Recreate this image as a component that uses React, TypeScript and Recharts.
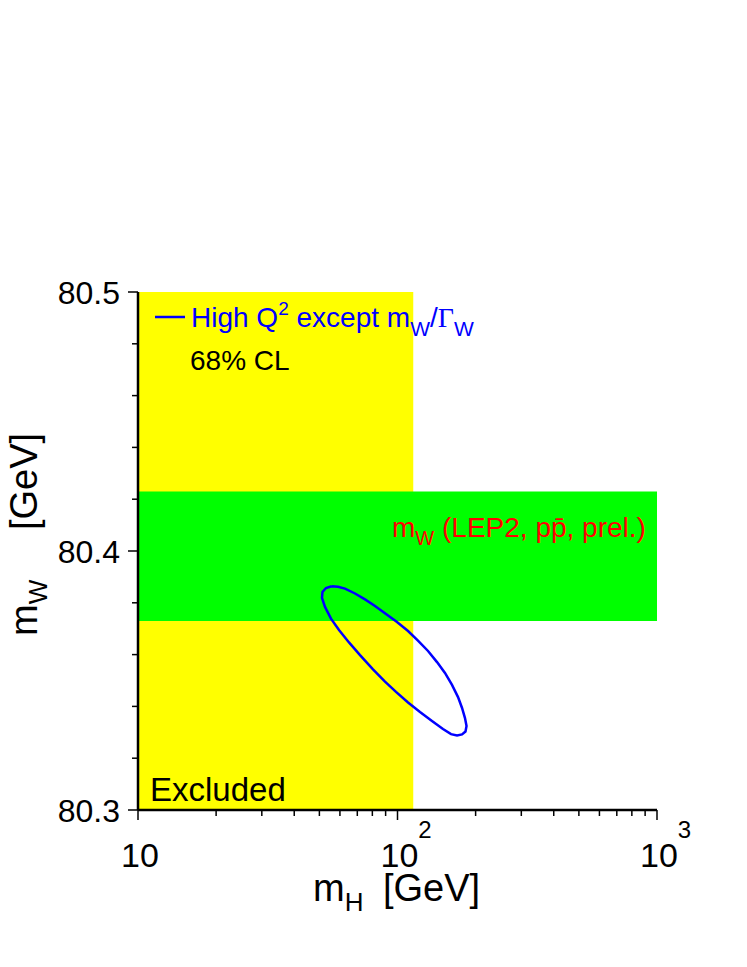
import React from "react";
import { ComposedChart, XAxis, YAxis, Scatter, ReferenceArea } from "recharts";

const xTicks = [10, 20, 30, 40, 50, 60, 70, 80, 90, 100, 200, 300, 400, 500, 600, 700, 800, 900, 1000];
const xMajor = [10, 100, 1000];
const xLabels: Record<number, string[]> = { 10: ["10", ""], 100: ["10", "2"], 1000: ["10", "3"] };
const yTicks = [80.3, 80.32, 80.34, 80.36, 80.38, 80.4, 80.42, 80.44, 80.46, 80.48, 80.5];
const yLabels: Record<number, string> = { 80.3: "80.3", 80.4: "80.4", 80.5: "80.5" };

// LEP direct search limit on m_H (yellow) and the direct m_W band (green)
const excludedMH = [10, 115];
const mwBand = [80.373, 80.423];

// 68% CL contour
const ellipseMH = [
  55.77, 58.98, 62.77, 68.6, 74.96, 81.9, 90.3, 99.56, 109.8, 119.9, 131.1, 142.0, 152.4, 162.2, 171.1,
  177.3, 182.0, 184.5, 182.8, 177.3, 169.6, 160.8, 149.7, 135.8, 122.1, 109.8, 98.68, 89.5, 80.46, 71.71,
  65.03, 59.51, 55.42, 52.55, 51.17, 51.4, 53.02, 55.77,
];
const ellipseMW = [
  80.3864, 80.3862, 80.3855, 80.3836, 80.3813, 80.3788, 80.3757, 80.3726, 80.3691, 80.3654, 80.3614,
  80.3571, 80.3529, 80.3483, 80.3436, 80.3394, 80.3355, 80.3324, 80.3303, 80.3292, 80.3288, 80.3293,
  80.3313, 80.3344, 80.3378, 80.3415, 80.3456, 80.3496, 80.3543, 80.3598, 80.3647, 80.3695, 80.3739,
  80.3784, 80.3819, 80.3842, 80.3857, 80.3864,
];
const contour = ellipseMH.map((mh, i) => ({ mh, mw: ellipseMW[i] }));

const FONT = "'Liberation Sans', Arial, Helvetica, sans-serif";

function BottomTick({ x, y, payload }: any) {
  const v = payload.value;
  const major = xMajor.includes(v);
  const lab = xLabels[v];
  return (
    <g>
      <line x1={x} x2={x} y1={y} y2={y + (major ? 10 : 6)} stroke="#000" strokeWidth={1.5} />
      {lab && (
        <text x={x + 2 - (lab[1] ? 19 : 0)} y={y + 57} textAnchor={lab[1] ? "start" : "middle"} fontSize={34} fontFamily={FONT} fill="#000">
          {lab[0]}
          {lab[1] && (
            <tspan dy={-29} fontSize={24}>
              {lab[1]}
            </tspan>
          )}
        </text>
      )}
    </g>
  );
}

function TopTick({ x, y, payload }: any) {
  const major = xMajor.includes(payload.value);
  return <line x1={x} x2={x} y1={y} y2={y + (major ? 10 : 6)} stroke="#000" strokeWidth={1.5} />;
}

function LeftTick({ x, y, payload }: any) {
  const lab = yLabels[payload.value];
  return (
    <g>
      <line x1={x - (lab ? 10 : 6)} x2={x} y1={y} y2={y} stroke="#000" strokeWidth={1.5} />
      {lab && (
        <text x={x - 18} y={y + 11.5} textAnchor="end" fontSize={32} fontFamily={FONT} fill="#000">
          {lab}
        </text>
      )}
    </g>
  );
}

function RightTick({ x, y, payload }: any) {
  const major = yLabels[payload.value];
  return <line x1={x - (major ? 10 : 7)} x2={x} y1={y} y2={y} stroke="#000" strokeWidth={1.5} />;
}

export default function App() {
  return (
    <div style={{ position: "absolute", left: 0, top: 0, width: 747, height: 967, background: "#fff" }}>
      <ComposedChart width={747} height={967} margin={{ top: 292, right: 90, bottom: 97, left: 0 }}>
        <XAxis
          xAxisId={0}
          dataKey="mh"
          type="number"
          scale="log"
          domain={[10, 1000]}
          ticks={xTicks}
          interval={0}
          height={60}
          tickSize={0}
          tickMargin={0}
          tickLine={false}
          tick={<BottomTick />}
          axisLine={{ stroke: "#000", strokeWidth: 2.5 }}
        />
        <XAxis
          xAxisId="top"
          orientation="top"
          type="number"
          scale="log"
          domain={[10, 1000]}
          ticks={xTicks}
          interval={0}
          height={0}
          tickSize={0}
          tickMargin={0}
          tickLine={false}
          tick={<TopTick />}
          axisLine={{ stroke: "#000", strokeWidth: 2.5 }}
        />
        <YAxis
          yAxisId={0}
          dataKey="mw"
          type="number"
          domain={[80.3, 80.5]}
          ticks={yTicks}
          interval={0}
          width={138}
          tickSize={0}
          tickMargin={0}
          tickLine={false}
          tick={<LeftTick />}
          axisLine={{ stroke: "#000", strokeWidth: 2.5 }}
        />
        <YAxis
          yAxisId="right"
          orientation="right"
          type="number"
          domain={[80.3, 80.5]}
          ticks={yTicks}
          interval={0}
          width={0}
          tickSize={0}
          tickMargin={0}
          tickLine={false}
          tick={<RightTick />}
          axisLine={{ stroke: "#000", strokeWidth: 2.5 }}
        />
        <ReferenceArea x1={excludedMH[0]} x2={excludedMH[1]} y1={80.3} y2={80.5} fill="#ffff00" fillOpacity={1} stroke="none" />
        <ReferenceArea x1={10} x2={1000} y1={mwBand[0]} y2={mwBand[1]} fill="#00ff00" fillOpacity={1} stroke="none" />
        <Scatter
          data={contour}
          line={{ stroke: "#0000ff", strokeWidth: 2.5 }}
          lineType="joint"
          shape={() => <g />}
          isAnimationActive={false}
        />
      </ComposedChart>
      <svg width={747} height={967} style={{ position: "absolute", left: 0, top: 0, pointerEvents: "none" }} fontFamily={FONT}>
        <line x1={155} x2={185} y1={317} y2={317} stroke="#0000ff" strokeWidth={2.5} />
        <text x={191} y={327} fontSize={28} fill="#0000ff">
          High Q<tspan dy={-12} fontSize={19}>2</tspan>
          <tspan dy={12}> except m</tspan>
          <tspan dy={9} fontSize={21}>W</tspan>
          <tspan dy={-9}>/</tspan>
          <tspan fontFamily="'Liberation Serif', 'Times New Roman', serif">Γ</tspan>
          <tspan dy={9} fontSize={21}>W</tspan>
        </text>
        <text x={190} y={370} fontSize={28} fill="#000">68% CL</text>
        <text x={392} y={537} fontSize={28} fill="#ff0000">
          m<tspan dy={8} fontSize={20}>W</tspan>
          <tspan dy={-8}> (LEP2, pp̄, prel.)</tspan>
        </text>
        <text x={150} y={801} fontSize={33} fill="#000">Excluded</text>
        <text x={313} y={901} fontSize={38} fill="#000">
          m<tspan dy={10} fontSize={26}>H</tspan>
          <tspan x={383} dy={-10}>[GeV]</tspan>
        </text>
        <text transform="translate(37,636) rotate(-90)" fontSize={38} fill="#000">
          m<tspan dy={10} fontSize={26}>W</tspan>
          <tspan x={106} dy={-10}>[GeV]</tspan>
        </text>
      </svg>
    </div>
  );
}
